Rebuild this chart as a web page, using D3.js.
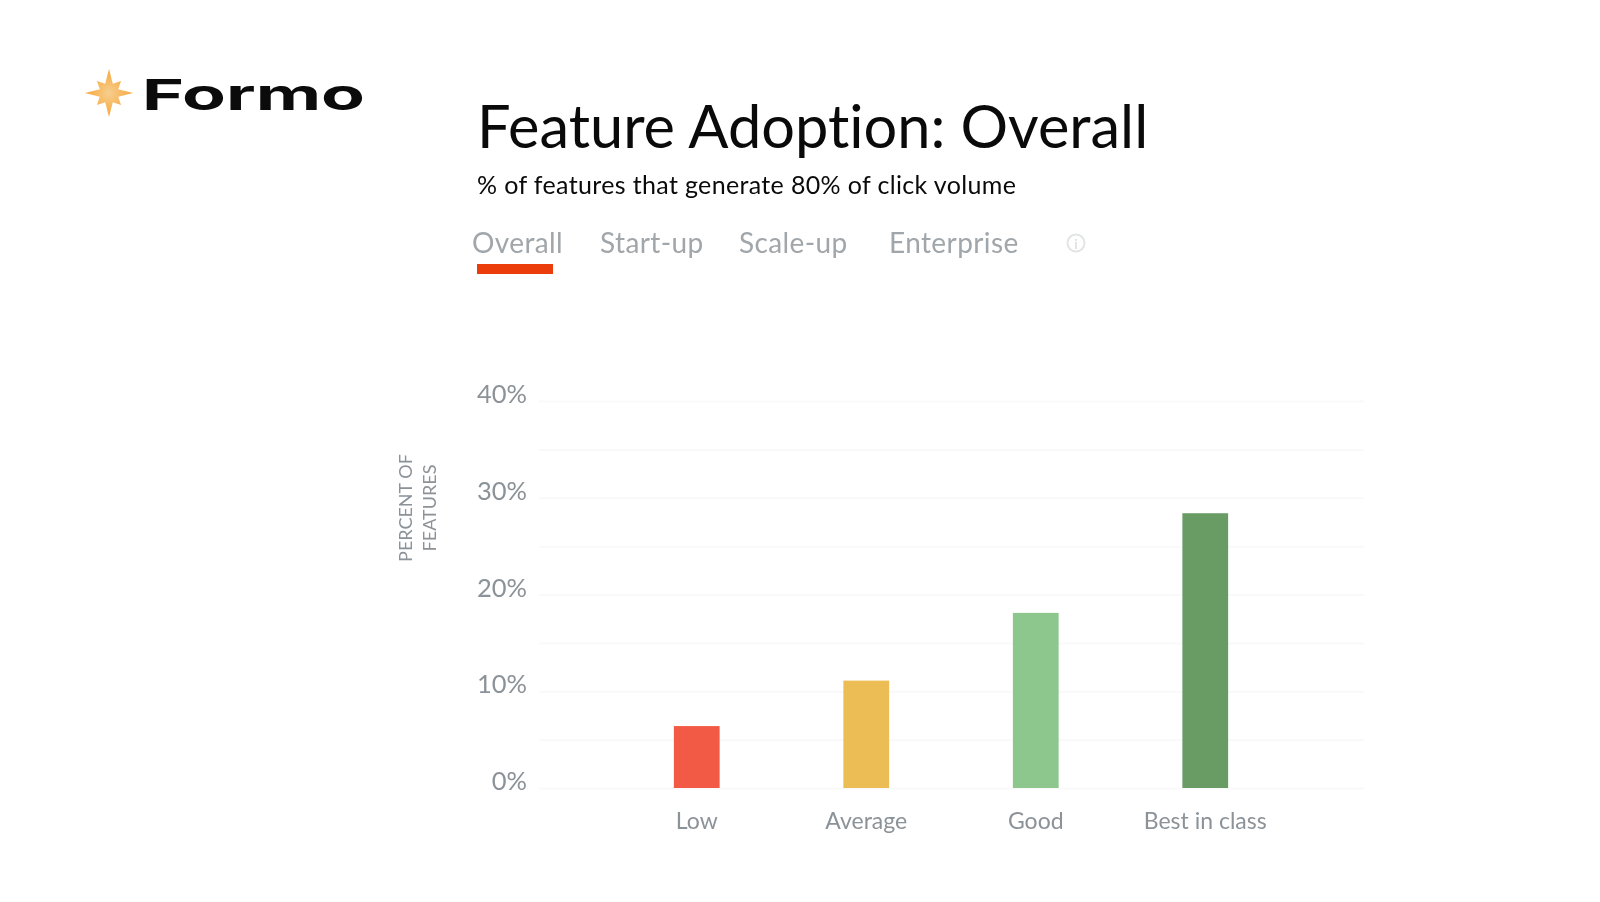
<!DOCTYPE html>
<html>
<head>
<meta charset="utf-8">
<script src="https://cdn.jsdelivr.net/npm/d3@7"></script>
<style>
  html, body { margin: 0; padding: 0; background: #fff; }
  svg { display: block; filter: blur(0.45px); }
  text { font-family: Lato, "Open Sans", sans-serif; font-variant-ligatures: none; }
  .grid line { stroke: #f9f9f9; stroke-width: 2; }
  .grid path { display: none; }
  .grid text, .xaxis text { fill: #8b9298; }
  .xaxis path, .xaxis line { display: none; }
</style>
</head>
<body>
<div id="chart"></div>
<script>
const categories = ['Low', 'Average', 'Good', 'Best in class']
const values = [6.4, 11.1, 18.1, 28.4]
const barColors = ['#f25a46', '#ecbd55', '#8dc78d', '#699c65']
const yTicks = [0, 5, 10, 15, 20, 25, 30, 35, 40]
const tabs = ['Overall', 'Start-up', 'Scale-up', 'Enterprise']
const tabX = [472, 600, 739, 889]

const width = 1600
const height = 902

const svg = d3.select('#chart').append('svg')
  .attr('width', width)
  .attr('height', height)

// logo star
const defs = svg.append('defs')
const grad = defs.append('radialGradient').attr('id', 'starFill')
grad.append('stop').attr('offset', '0%').attr('stop-color', '#f6cf8f')
grad.append('stop').attr('offset', '100%').attr('stop-color', '#f9a63a')

const starRadii = [24, 10, 17, 10, 24, 10, 17, 10, 24, 10, 17, 10, 24, 10, 17, 10]
const star = d3.lineRadial()
  .angle((d, i) => i * Math.PI / 8)
  .radius(d => d)
  .curve(d3.curveLinearClosed)

svg.append('path')
  .attr('transform', 'translate(109,93)')
  .attr('d', star(starRadii))
  .attr('fill', 'url(#starFill)')

svg.append('text')
  .attr('x', 142)
  .attr('y', 110)
  .attr('textLength', 223)
  .attr('lengthAdjust', 'spacingAndGlyphs')
  .style('font-family', 'Inter')
  .style('font-size', '43px')
  .style('font-weight', 700)
  .attr('fill', '#0b0b0b')
  .text('Formo')

// headings
svg.append('text')
  .attr('x', 477)
  .attr('y', 148)
  .style('font-size', '59.5px')
  .attr('fill', '#0a0a0a')
  .text('Feature Adoption: Overall')

svg.append('text')
  .attr('x', 477)
  .attr('y', 194)
  .style('font-size', '25px')
  .style('letter-spacing', '0.35px')
  .attr('fill', '#0a0a0a')
  .text('% of features that generate 80% of click volume')

svg.selectAll('.tab')
  .data(tabs)
  .enter()
  .append('text')
  .attr('class', 'tab')
  .attr('x', (d, i) => tabX[i])
  .attr('y', 253)
  .style('font-size', '28px')
  .style('letter-spacing', '0.4px')
  .attr('fill', '#a0a6aa')
  .text(d => d)

svg.append('rect')
  .attr('x', 477)
  .attr('y', 264)
  .attr('width', 76)
  .attr('height', 10)
  .attr('fill', '#ea3d0b')

// info icon
svg.append('circle')
  .attr('cx', 1076)
  .attr('cy', 243)
  .attr('r', 8.5)
  .attr('fill', 'none')
  .attr('stroke', '#e2e4e5')
  .attr('stroke-width', 2)
svg.append('text')
  .attr('x', 1076)
  .attr('y', 249)
  .attr('text-anchor', 'middle')
  .style('font-size', '14px')
  .attr('fill', '#d5d8d9')
  .text('i')

// chart
const y = d3.scaleLinear().domain([0, 40]).range([788, 401])
const x = d3.scaleBand().domain(categories).range([612, 1290]).paddingInner(0.73).paddingOuter(0.365)

const gridG = svg.append('g')
  .attr('class', 'grid')
  .attr('transform', 'translate(539,0)')
  .call(d3.axisLeft(y)
    .tickValues(yTicks)
    .tickSize(-825)
    .tickPadding(12)
    .tickFormat(d => d % 10 === 0 ? d + '%' : ''))

gridG.selectAll('text')
  .attr('dy', '0.06em')
  .style('font-size', '25.5px')

const xG = svg.append('g')
  .attr('class', 'xaxis')
  .attr('transform', 'translate(0,788)')
  .call(d3.axisBottom(x).tickSize(0).tickPadding(25))

xG.selectAll('text').style('font-size', '23px')

svg.selectAll('.bar')
  .data(values)
  .enter()
  .append('rect')
  .attr('class', 'bar')
  .attr('x', (d, i) => x(categories[i]))
  .attr('y', d => y(d))
  .attr('width', x.bandwidth())
  .attr('height', d => y(0) - y(d))
  .attr('fill', (d, i) => barColors[i])

// y title, two lines
const yTitle = svg.append('g').attr('transform', 'translate(412,508) rotate(-90)')
yTitle.append('text')
  .attr('text-anchor', 'middle')
  .style('font-size', '18px')
  .attr('fill', '#8b9298')
  .selectAll('tspan')
  .data(['PERCENT OF', 'FEATURES'])
  .enter()
  .append('tspan')
  .attr('x', 0)
  .attr('y', (d, i) => i * 24)
  .text(d => d)
</script>
</body>
</html>
